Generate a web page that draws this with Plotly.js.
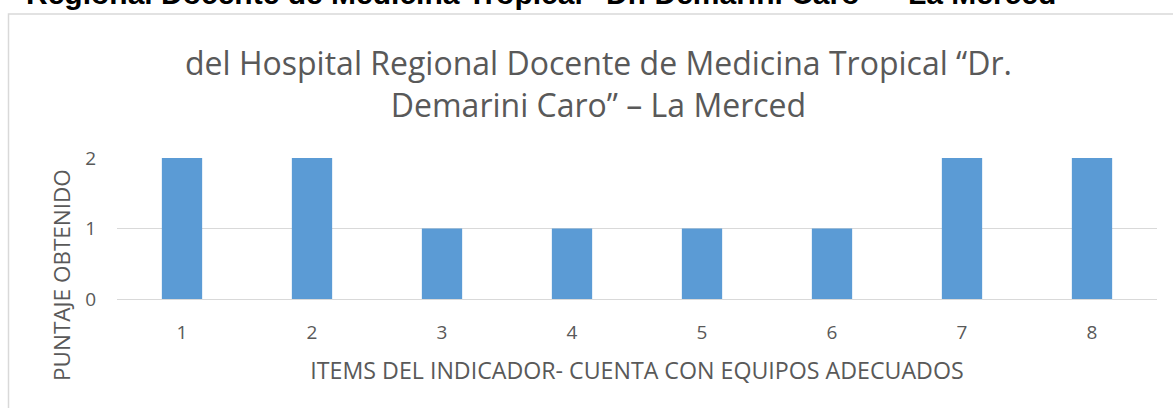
<!DOCTYPE html>
<html>
<head>
<meta charset="utf-8">
<script src="https://cdn.plot.ly/plotly-3.0.1.min.js"></script>
<style>
html,body{margin:0;padding:0;background:#fff;}
#chart{width:1173px;height:408px;}
</style>
</head>
<body>
<div id="chart"></div>
<script>
const items = ["1","2","3","4","5","6","7","8"];
const puntaje = [2,2,1,1,1,1,2,2];
const yTicks = [0,1,2];
const chartTitle = "del Hospital Regional Docente de Medicina Tropical “Dr.<br>Demarini Caro” – La Merced";
const pageHeading = "Regional Docente de Medicina Tropical \u201cDr. Demarini Caro\u201d \u2013 La Merced";
const xTitle = "ITEMS DEL INDICADOR- CUENTA CON EQUIPOS ADECUADOS";
const yTitle = "PUNTAJE OBTENIDO";

const W = 1173, H = 408;
const mL = 117, mR = 16, mT = 158, mB = 109;
const pw = W - mL - mR, ph = H - mT - mB;
const px = x => (x - mL) / pw;
const py = y => (H - mB - y) / ph;
const FONT = 'Open Sans, sans-serif';
const GREY = '#595959';

const trace = {
  type: 'bar',
  x: items,
  y: puntaje,
  marker: {color: '#5b9bd5', line: {width: 0}},
  hoverinfo: 'x+y'
};

const layout = {
  width: W, height: H,
  margin: {l: mL, r: mR, t: mT, b: mB, pad: 0},
  paper_bgcolor: '#ffffff',
  plot_bgcolor: '#ffffff',
  bargap: 0.69,
  showlegend: false,
  font: {family: FONT, color: GREY},
  xaxis: {
    type: 'category',
    tickvals: items,
    ticktext: items,
    showgrid: false, zeroline: false, showline: false,
    ticks: '',
    tickfont: {family: FONT, size: 19, color: GREY},
    ticklabelstandoff: 20,
    title: {text: xTitle, font: {family: FONT, size: 23.2, color: GREY}, standoff: 18}
  },
  yaxis: {
    range: [0, 2],
    tickvals: yTicks,
    ticktext: yTicks.map(String),
    showgrid: true, gridcolor: '#d9d9d9', gridwidth: 1,
    zeroline: true, zerolinecolor: '#d9d9d9', zerolinewidth: 1,
    showline: false, ticks: '',
    tickfont: {family: FONT, size: 19, color: GREY},
    ticklabelstandoff: 20
  },
  shapes: [{
    type: 'rect', xref: 'paper', yref: 'paper', layer: 'below',
    x0: px(8.5), x1: px(1180), y0: py(420), y1: py(14),
    line: {color: '#d9d9d9', width: 1.5}, fillcolor: 'rgba(0,0,0,0)'
  }],
  annotations: [{
    text: '<b>' + pageHeading + '</b>',
    xref: 'paper', yref: 'paper',
    x: px(541), y: py(12), xanchor: 'center', yanchor: 'bottom',
    showarrow: false,
    font: {family: 'Liberation Sans, Arial, sans-serif', size: 30, color: '#000000'}
  }, {
    text: chartTitle,
    xref: 'paper', yref: 'paper',
    x: px(598), y: py(84), xanchor: 'center', yanchor: 'middle',
    showarrow: false,
    font: {family: FONT, size: 32, color: GREY}
  }, {
    text: yTitle,
    xref: 'paper', yref: 'paper',
    x: px(61), y: py(275), xanchor: 'center', yanchor: 'middle',
    textangle: -90,
    showarrow: false,
    font: {family: FONT, size: 22.5, color: GREY}
  }]
};

Plotly.newPlot('chart', [trace], layout, {displayModeBar: false, staticPlot: true});
</script>
</body>
</html>
